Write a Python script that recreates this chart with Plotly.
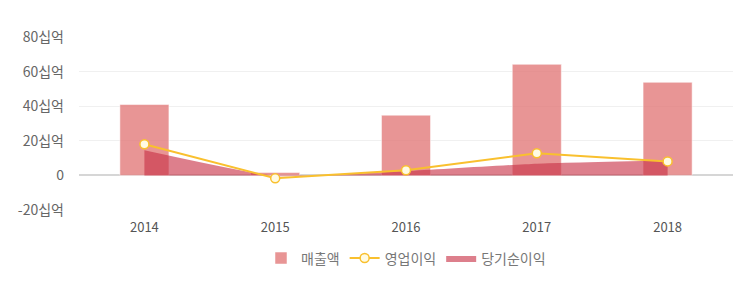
import plotly.graph_objects as go

years = ["2014", "2015", "2016", "2017", "2018"]
revenue = [41.0, 1.7, 34.8, 64.2, 53.8]
op_income = [18.0, -1.7, 3.0, 12.8, 8.1]
net_income = [14.5, -0.3, 2.5, 6.8, 8.6]
y_ticks = [-20, 0, 20, 40, 60, 80]
y_labels = ["-20십억", "0", "20십억", "40십억", "60십억", "80십억"]

xs = list(range(len(years)))
font = "Noto Sans CJK KR, Noto Sans, sans-serif"

fig = go.Figure()
fig.add_trace(go.Bar(
    x=xs, y=revenue, name="매출액", width=0.375,
    marker=dict(color="rgba(226,122,122,0.8)", line=dict(color="rgba(255,255,255,0.5)", width=1)),
))
fig.add_trace(go.Scatter(
    x=xs, y=net_income, name="당기순이익", mode="lines",
    line=dict(color="rgba(200,50,70,0.0)", width=0, shape="spline", smoothing=0.5),
    fill="tozeroy", fillcolor="rgba(200,48,70,0.62)",
))
fig.add_trace(go.Scatter(
    x=xs, y=op_income, name="영업이익", mode="lines+markers",
    line=dict(color="#f9c02e", width=2),
    marker=dict(size=9, color="#fffbe3", line=dict(color="#f9c02e", width=1.5)),
))

fig.update_layout(
    width=748, height=290,
    margin=dict(l=78.5, r=14.5, t=37, b=80),
    paper_bgcolor="white", plot_bgcolor="white",
    font=dict(family=font, size=14, color="#666"),
    showlegend=True,
    legend=dict(orientation="h", x=0.5, xanchor="center", y=-0.28, yanchor="middle",
                traceorder="normal", font=dict(size=14, color="#777"),
                itemwidth=30),
    bargap=0.6,
)
fig.update_xaxes(
    tickmode="array", tickvals=xs, ticktext=years, range=[-0.5, 4.5],
    showgrid=False, zeroline=False, showline=False, ticks="",
    ticklabelstandoff=8,
    tickfont=dict(size=13, color="#555"), fixedrange=True,
)
fig.update_yaxes(
    range=[-20, 80], tickmode="array", tickvals=y_ticks, ticktext=y_labels,
    showgrid=True, gridcolor="#f0f0f0", gridwidth=1,
    zeroline=True, zerolinecolor="#d6d6d6", zerolinewidth=1.5,
    ticks="", ticklen=0, ticklabelstandoff=14,
    tickfont=dict(size=14, color="#666"), fixedrange=True,
)
fig.data[0].legendrank = 1
fig.data[2].legendrank = 2
fig.data[1].legendrank = 3

fig.write_html("out.html")
